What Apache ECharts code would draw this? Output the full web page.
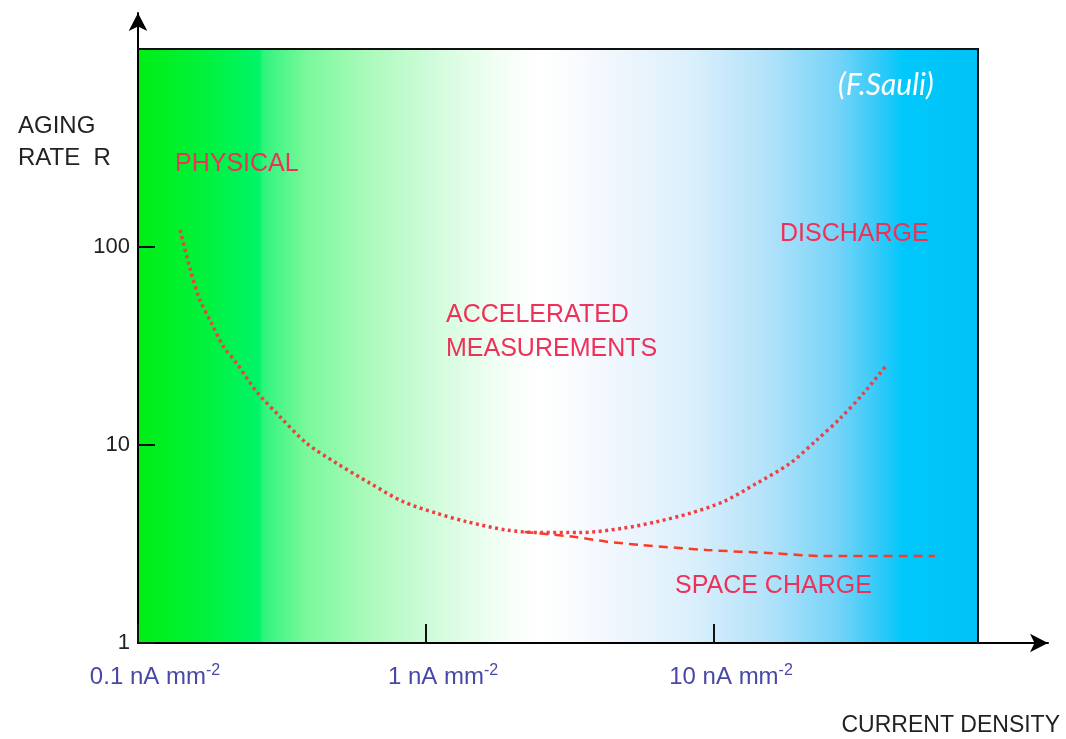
<!DOCTYPE html>
<html>
<head>
<meta charset="utf-8">
<script src="https://cdn.jsdelivr.net/npm/echarts@6/dist/echarts.min.js"></script>
<style>
html,body{margin:0;padding:0;background:#fff;}
#chart{width:1066px;height:739px;}
</style>
</head>
<body>
<div id="chart"></div>
<script>
// ---- data ----
var xTickLabels = ['0.1 nA mm', '1 nA mm', '10 nA mm'];
var xTickSup = '-2';
var yTickLabels = ['1', '10', '100'];
// dotted aging curve: [current density nA/mm2, aging rate]
var agingCurve = [
  [0.140, 121.8], [0.152, 76.5], [0.164, 54.0], [0.180, 41.2], [0.198, 31.4],
  [0.220, 25.9], [0.258, 18.6], [0.311, 13.9], [0.385, 10.2], [0.490, 8.08],
  [0.639, 6.41], [0.834, 5.17], [1.089, 4.52], [1.384, 4.10], [1.906, 3.72],
  [2.488, 3.61], [3.424, 3.61], [4.843, 3.80], [6.324, 4.10], [8.255, 4.52],
  [10.77, 5.17], [14.07, 6.41], [18.36, 8.08], [22.73, 10.6], [27.38, 13.6],
  [32.99, 18.2], [39.79, 25.4]
];
// dashed space-charge branch
var spaceChargeCurve = [
  [2.20, 3.64], [3.25, 3.44], [4.24, 3.25], [5.54, 3.13], [9.43, 2.95],
  [16.1, 2.84], [24.0, 2.75], [58.5, 2.75]
];
var regionLabels = ['PHYSICAL', 'DISCHARGE', 'ACCELERATED\nMEASUREMENTS', 'SPACE CHARGE'];

var chart = echarts.init(document.getElementById('chart'));
var red = '#ee3158';
var font = 'Liberation Sans, Arial, sans-serif';

var option = {
  animation: false,
  backgroundColor: '#ffffff',
  grid: [
    {
      left: 138, right: 88, top: 49, bottom: 96,
      show: true, borderColor: '#111', borderWidth: 2,
      backgroundColor: {
        type: 'linear', x: 0, y: 0, x2: 1, y2: 0,
        colorStops: [
          {offset: 0, color: '#00ee14'},
          {offset: 0.08, color: '#00f23c'},
          {offset: 0.145, color: '#00f468'},
          {offset: 0.15, color: '#30f47c'},
          {offset: 0.2, color: '#78f89a'},
          {offset: 0.28, color: '#aefabe'},
          {offset: 0.36, color: '#d4fcde'},
          {offset: 0.43, color: '#f2fef4'},
          {offset: 0.48, color: '#ffffff'},
          {offset: 0.57, color: '#f0f6fd'},
          {offset: 0.66, color: '#daeffc'},
          {offset: 0.75, color: '#b2e2fa'},
          {offset: 0.83, color: '#78d4f8'},
          {offset: 0.88, color: '#34caf8'},
          {offset: 0.91, color: '#00c8fc'},
          {offset: 1, color: '#00c2f6'}
        ]
      }
    },
    { left: 138, right: 18, top: 13, bottom: 96 }
  ],
  xAxis: [
    {
      type: 'log', logBase: 10, min: 0.1, max: 82.5, gridIndex: 0,
      axisLine: {show: false},
      axisTick: {show: true, inside: true, length: 19, lineStyle: {color: '#111', width: 2}},
      splitLine: {show: false},
      axisLabel: {
        margin: 20,
        padding: [0, 0, 0, 34],
        formatter: function (v) {
          var i = Math.round(Math.log10(v)) + 1;
          if (i < 0 || i >= xTickLabels.length) return '';
          return '{n|' + xTickLabels[i] + '}{s|' + xTickSup + '}';
        },
        rich: {
          n: {fontFamily: font, fontSize: 24, color: '#4848a6', verticalAlign: 'bottom', lineHeight: 26},
          s: {fontFamily: font, fontSize: 16, color: '#4848a6', verticalAlign: 'top', lineHeight: 26, padding: [0, 0, 10, 0]}
        }
      }
    },
    {
      type: 'value', gridIndex: 1, min: 0, max: 1,
      axisLine: {show: true, symbol: ['none', 'arrow'], symbolSize: [14, 18], lineStyle: {color: '#000', width: 2}},
      axisTick: {show: false}, axisLabel: {show: false}, splitLine: {show: false}
    }
  ],
  yAxis: [
    {
      type: 'log', logBase: 10, min: 1, max: 1000, gridIndex: 0,
      axisLine: {show: false},
      axisTick: {show: true, inside: true, length: 17, lineStyle: {color: '#111', width: 2}},
      splitLine: {show: false},
      axisLabel: {
        margin: 8,
        fontFamily: font, fontSize: 22, color: '#222',
        formatter: function (v) {
          var i = Math.round(Math.log10(v));
          return (i >= 0 && i < yTickLabels.length) ? yTickLabels[i] : '';
        }
      }
    },
    {
      type: 'value', gridIndex: 1, min: 0, max: 1,
      axisLine: {show: true, symbol: ['none', 'arrow'], symbolSize: [14, 18], lineStyle: {color: '#000', width: 2}},
      axisTick: {show: false}, axisLabel: {show: false}, splitLine: {show: false}
    }
  ],
  series: [
    {
      type: 'line', xAxisIndex: 0, yAxisIndex: 0,
      data: spaceChargeCurve, smooth: 0.3, showSymbol: false,
      lineStyle: {color: '#ff3a22', width: 2.5, type: [9, 6]}
    },
    {
      type: 'line', xAxisIndex: 0, yAxisIndex: 0,
      data: agingCurve, smooth: 0.3, showSymbol: false,
      lineStyle: {color: '#f03e44', width: 3.5, type: [3, 3.5]}
    }
  ],
  graphic: [
    {type: 'text', left: 18, top: 110, style: {text: 'AGING\nRATE  R', font: '24px ' + font, fill: '#222', lineHeight: 32}},
    {type: 'text', left: 175, top: 152, style: {text: regionLabels[0], font: '25px ' + font, fill: red}},
    {type: 'text', left: 780, top: 222, style: {text: regionLabels[1], font: '25px ' + font, fill: red}},
    {type: 'text', left: 446, top: 298, style: {text: regionLabels[2], font: '25px ' + font, fill: red, lineHeight: 34}},
    {type: 'text', left: 675, top: 574, style: {text: regionLabels[3], font: '25px ' + font, fill: red}},
    {type: 'text', left: 838, top: 70, style: {text: '(F.Sauli)', font: 'italic 30px Lato, "Open Sans", sans-serif', fill: '#ffffff'}},
    {type: 'text', right: 6, top: 714, style: {text: 'CURRENT DENSITY', font: '23px ' + font, fill: '#222'}}
  ]
};
chart.setOption(option);
</script>
</body>
</html>
